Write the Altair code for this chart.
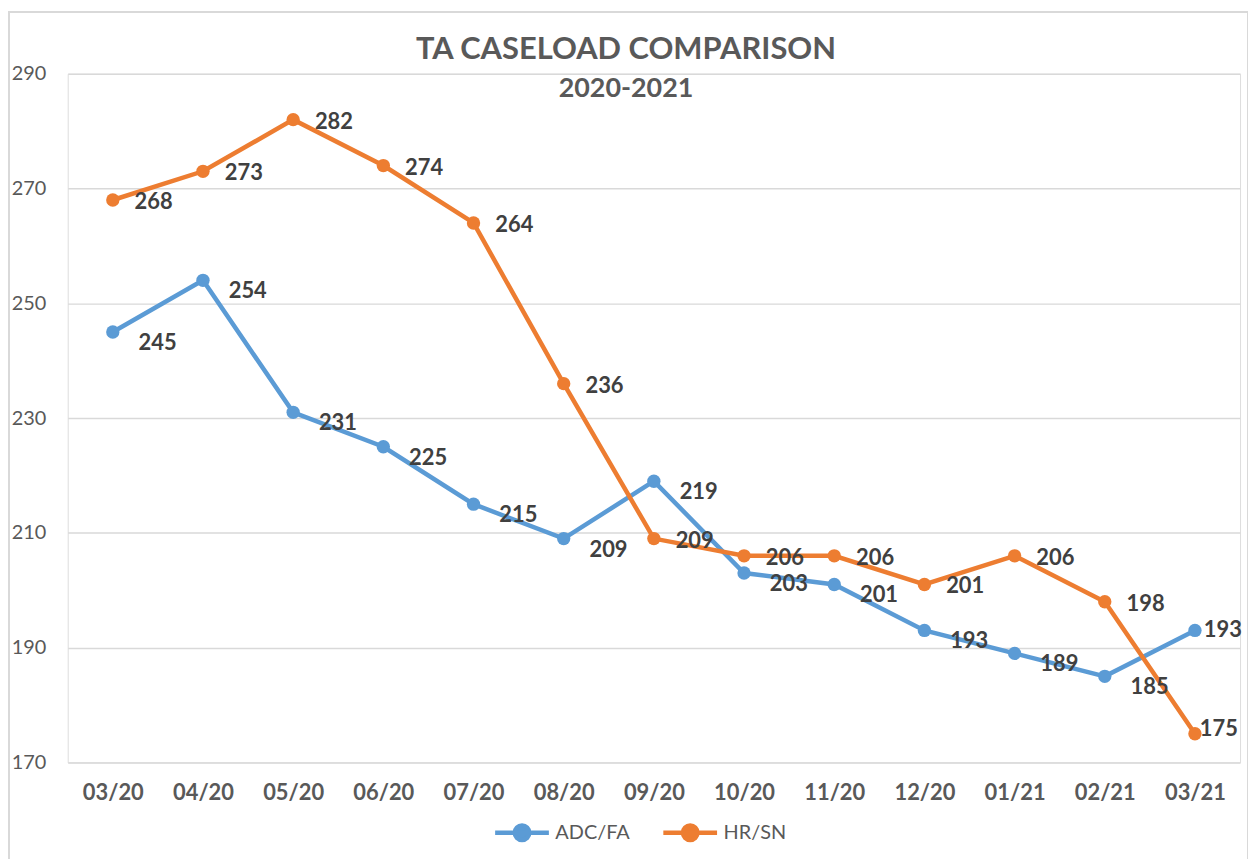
import altair as alt
import pandas as pd

months = ["03/20", "04/20", "05/20", "06/20", "07/20", "08/20", "09/20",
          "10/20", "11/20", "12/20", "01/21", "02/21", "03/21"]
adc_fa = [245, 254, 231, 225, 215, 209, 219, 203, 201, 193, 189, 185, 193]
hr_sn = [268, 273, 282, 274, 264, 236, 209, 206, 206, 201, 206, 198, 175]
series_names = ["ADC/FA", "HR/SN"]
series_colors = ["#5B9BD5", "#ED7D31"]
y_ticks = [170, 190, 210, 230, 250, 270, 290]
title_lines = ["TA CASELOAD COMPARISON", "2020-2021"]

rows = []
for name, vals in zip(series_names, [adc_fa, hr_sn]):
    for m, v in zip(months, vals):
        rows.append({"month": m, "series": name, "value": v})
df = pd.DataFrame(rows)

W, H = 1178, 692
FONT = "Lato"
GRAY = "#595959"
LAST = months[-1]

x = alt.X("month:O", sort=months,
          scale=alt.Scale(type="point", padding=0.5),
          axis=alt.Axis(title=None, labelAngle=0, ticks=False, domain=False,
                        labelFontWeight="bold", labelFontSize=22, labelColor=GRAY,
                        labelPadding=20, labelFont=FONT))
y = alt.Y("value:Q", scale=alt.Scale(domain=[170, 290], nice=False, zero=False),
          axis=alt.Axis(title=None, values=y_ticks, ticks=False, domain=False,
                        labelFontSize=20, labelColor=GRAY, labelPadding=22,
                        gridColor="#D9D9D9", gridWidth=1.5, labelFont=FONT))
legend_symbol = "M-1,0H1M-0.27,0A0.27,0.27 0 1,0 0.27,0A0.27,0.27 0 1,0 -0.27,0Z"
color = alt.Color("series:N",
                  scale=alt.Scale(domain=series_names, range=series_colors),
                  legend=alt.Legend(title=None, orient="none", direction="horizontal",
                                    legendX=427, legendY=733,
                                    symbolType=legend_symbol, symbolSize=2916,
                                    symbolStrokeWidth=4.5, labelFont=FONT,
                                    labelFontSize=20, labelColor=GRAY,
                                    labelOffset=4, columnPadding=24))

base = alt.Chart(df)
lines = base.mark_line(strokeWidth=4.5, point=alt.OverlayMarkDef(filled=True, size=180)).encode(
    x=x, y=y, color=color)


def label_layer(series, last, dx, dy):
    cond = (alt.datum.series == series) & ((alt.datum.month == LAST) if last else (alt.datum.month != LAST))
    return base.transform_filter(cond).mark_text(
        align="center", baseline="middle", dx=dx, dy=dy, fontWeight="bold",
        fontSize=22, color="#404040", font=FONT).encode(x=x, y=y, text="value:Q")


labels = [
    label_layer("ADC/FA", False, 45, 11),
    label_layer("HR/SN", False, 41, 2),
    label_layer("ADC/FA", True, 28, 0),
    label_layer("HR/SN", True, 24, -5),
]

title1 = alt.Chart(pd.DataFrame({"t": [title_lines[0]]})).mark_text(
    font=FONT, fontSize=31, fontWeight="bold", color=GRAY, align="center",
    baseline="middle").encode(text="t:N", x=alt.value(561), y=alt.value(-24))
title2 = alt.Chart(pd.DataFrame({"t": [title_lines[1]]})).mark_text(
    font=FONT, fontSize=27, fontWeight="bold", color=GRAY, align="center",
    baseline="middle").encode(text="t:N", x=alt.value(561), y=alt.value(15))

border = alt.Chart(pd.DataFrame({"a": [0]})).mark_rect(
    filled=False, stroke="#D9D9D9", strokeWidth=2).encode(
    x=alt.value(-59), x2=alt.value(W + 8), y=alt.value(-62), y2=alt.value(H + 200))

chart = alt.layer(border, lines, *labels, title1, title2).properties(
    width=W, height=H,
    autosize=alt.AutoSizeParams(type="none"),
    padding={"left": 60, "top": 64, "right": 8, "bottom": 95},
).configure_view(stroke=None).configure(background="white")

chart.save("out.html", embed_options={"renderer": "svg", "actions": False})
